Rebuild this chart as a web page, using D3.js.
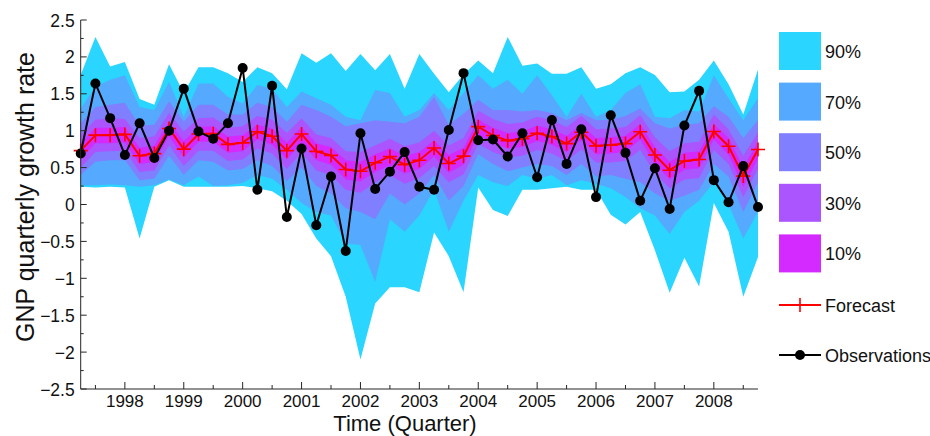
<!DOCTYPE html>
<html>
<head>
<meta charset="utf-8">
<script src="https://cdn.jsdelivr.net/npm/d3@7"></script>
<style>
  body { margin: 0; background: #fff; }
  text { font-family: "Liberation Sans", Arial, sans-serif; fill: #111; }
</style>
</head>
<body>
<svg id="chart" width="930" height="436"></svg>
<script>
// quarters 1997Q2 .. 2008Q4
const startYear = 1997.25, nQ = 47;
const quarters = d3.range(nQ).map(i => startYear + i * 0.25);

const observations = [0.69,1.64,1.17,0.67,1.10,0.63,1.00,1.57,0.99,0.89,1.10,1.85,0.20,1.61,-0.17,0.76,
  -0.28,0.38,-0.63,0.965,0.21,0.445,0.71,0.24,0.20,1.01,1.78,0.87,0.88,0.65,0.965,0.37,
  1.145,0.55,1.02,0.10,1.21,0.70,0.05,0.49,-0.06,1.07,1.54,0.33,0.03,0.52,-0.035];

const forecast = [0.73,0.94,0.94,0.95,0.66,0.69,1.03,0.75,0.955,0.96,0.815,0.835,0.985,0.925,0.73,0.955,
  0.72,0.665,0.475,0.45,0.565,0.65,0.54,0.60,0.765,0.555,0.655,1.055,0.935,0.865,0.89,0.965,
  0.92,0.825,0.98,0.795,0.805,0.825,0.985,0.67,0.465,0.59,0.61,0.99,0.79,0.385,0.745];

// band limits
const upper90 = [1.755,2.27,1.87,1.93,1.43,1.35,1.90,1.51,1.86,1.86,1.78,1.66,1.86,1.78,1.56,2.05,
  1.92,2.05,1.81,2.04,1.82,2.04,1.57,2.04,1.77,1.52,1.76,1.95,1.78,2.27,1.88,1.91,
  1.77,1.77,1.86,1.57,1.63,1.78,1.86,1.755,1.52,1.53,1.69,1.95,1.63,1.22,1.83];
const lower90 = [0.24,0.23,0.24,0.23,-0.46,0.24,0.33,0.24,0.24,0.24,0.24,0.25,0.22,0.18,0.05,-0.13,
  -0.46,-0.70,-1.25,-2.10,-1.34,-1.12,-1.12,-1.19,-0.38,-0.70,-1.19,0.23,-0.075,-0.155,0.20,0.20,
  0.22,0.24,0.20,0.20,-0.14,-0.27,-0.10,-0.62,-1.195,-0.72,-1.11,0.02,-0.37,-1.25,-0.71];
const upper70 = [1.30,1.60,1.69,1.75,1.32,1.28,1.66,1.19,1.64,1.64,1.46,1.37,1.62,1.57,1.32,1.53,
  1.44,1.35,1.19,1.14,1.55,1.51,1.19,1.28,1.51,1.28,1.51,1.75,1.57,1.69,1.50,1.75,
  1.48,1.19,1.50,1.19,1.28,1.51,1.63,1.19,1.17,1.28,1.26,1.75,1.44,1.14,1.44];
const lower70 = [0.26,0.26,0.27,0.26,0.24,0.26,0.34,0.26,0.38,0.25,0.26,0.29,0.40,0.35,0.20,0.02,
  -0.10,-0.15,-0.53,-0.55,-1.05,-0.20,-0.37,-0.15,0.20,-0.37,0.05,0.40,0.30,0.25,0.40,0.35,
  0.40,0.26,0.33,0.28,0.22,0.10,-0.05,-0.15,-0.40,-0.10,0.05,0.30,0.00,-0.46,-0.10];
const upper50 = [1.10,1.32,1.35,1.38,1.07,1.08,1.40,1.12,1.35,1.35,1.22,1.22,1.38,1.32,1.12,1.35,
  1.28,1.19,1.06,1.10,1.14,1.12,1.10,1.19,1.46,1.08,1.23,1.42,1.28,1.28,1.26,1.28,
  1.24,1.14,1.24,1.14,1.15,1.20,1.30,1.10,1.03,1.08,1.10,1.33,1.19,0.90,1.14];
const lower50 = [0.40,0.58,0.60,0.60,0.33,0.35,0.66,0.40,0.60,0.58,0.46,0.48,0.60,0.52,0.32,0.50,
  0.25,0.15,-0.05,-0.10,-0.20,0.15,0.00,0.15,0.40,0.05,0.25,0.68,0.55,0.45,0.50,0.55,
  0.52,0.40,0.55,0.38,0.40,0.35,0.30,0.15,0.05,0.12,0.20,0.55,0.38,-0.10,0.30];
const upper30 = [0.95,1.15,1.17,1.16,0.90,0.92,1.24,0.99,1.17,1.18,1.04,1.06,1.20,1.15,0.97,1.17,
  0.95,0.90,0.72,0.71,0.80,0.89,0.79,0.84,1.00,0.80,0.90,1.27,1.16,1.09,1.11,1.19,
  1.14,1.05,1.20,1.02,1.03,1.05,1.21,0.91,0.72,0.83,0.85,1.22,1.02,0.66,0.98];
const lower30 = [0.50,0.71,0.72,0.73,0.44,0.46,0.80,0.52,0.73,0.73,0.59,0.61,0.76,0.69,0.48,0.70,
  0.46,0.40,0.20,0.16,0.30,0.40,0.28,0.36,0.52,0.30,0.41,0.82,0.71,0.64,0.66,0.74,
  0.69,0.59,0.75,0.57,0.57,0.59,0.74,0.42,0.22,0.34,0.36,0.74,0.55,0.10,0.48];
const upper10 = [0.83,1.04,1.04,1.05,0.77,0.80,1.12,0.86,1.05,1.06,0.92,0.94,1.08,1.03,0.84,1.05,
  0.83,0.78,0.60,0.58,0.68,0.76,0.66,0.71,0.87,0.67,0.77,1.15,1.04,0.97,0.99,1.07,
  1.02,0.93,1.08,0.90,0.91,0.93,1.09,0.78,0.58,0.70,0.72,1.09,0.90,0.50,0.85];
const lower10 = [0.62,0.83,0.83,0.84,0.55,0.58,0.92,0.64,0.85,0.85,0.70,0.72,0.88,0.81,0.61,0.84,
  0.60,0.54,0.34,0.31,0.44,0.53,0.42,0.48,0.65,0.43,0.54,0.95,0.83,0.76,0.78,0.86,
  0.81,0.71,0.87,0.68,0.69,0.71,0.88,0.55,0.34,0.47,0.49,0.88,0.67,0.24,0.62];

const bandNames = ["90%","70%","50%","30%","10%"];
const bandColors = ["#2ad5ff","#55aaff","#7f7fff","#aa55ff","#d52aff"];
const bands = [[lower90,upper90],[lower70,upper70],[lower50,upper50],[lower30,upper30],[lower10,upper10]];

const yearTicks = d3.range(1998, 2009);
const halfTicks = d3.range(1997.5, 2009, 1);
const yTicks = d3.range(-2.5, 2.51, 0.5);
const yMinor = d3.range(-2.25, 2.5, 0.5);

const svg = d3.select("#chart");
const x = d3.scaleLinear().domain([startYear, 2008.75]).range([80.7, 758]);
const y = d3.scaleLinear().domain([-2.5, 2.5]).range([389, 20]);

// fan
bands.forEach((b, j) => {
  const area = d3.area()
    .x((d, i) => x(quarters[i]))
    .y0((d, i) => y(b[0][i]))
    .y1((d, i) => y(b[1][i]));
  svg.append("path").datum(quarters).attr("d", area).attr("fill", bandColors[j]);
});

// forecast
const line = d3.line().x((d, i) => x(quarters[i])).y(d => y(d));
svg.append("path").datum(forecast).attr("d", line)
   .attr("fill", "none").attr("stroke", "#ff0000").attr("stroke-width", 2);
svg.append("g").selectAll("path").data(forecast).enter().append("path")
   .attr("transform", (d, i) => "translate(" + x(quarters[i]) + "," + y(d) + ")")
   .attr("d", "M-7,0H7M0,-7V7")
   .attr("stroke", "#ff0000").attr("stroke-width", 1.6);

// observations
svg.append("path").datum(observations).attr("d", line)
   .attr("fill", "none").attr("stroke", "#000").attr("stroke-width", 2);
svg.append("g").selectAll("circle").data(observations).enter().append("circle")
   .attr("cx", (d, i) => x(quarters[i])).attr("cy", d => y(d)).attr("r", 5).attr("fill", "#000");

// axes
const xAxis = svg.append("g").attr("transform", "translate(0,389)");
xAxis.append("line").attr("x1", 80.7).attr("x2", 758).attr("stroke", "#262626");
xAxis.selectAll(".maj").data(yearTicks).enter().append("line")
   .attr("x1", d => x(d)).attr("x2", d => x(d)).attr("y1", 0).attr("y2", -7).attr("stroke", "#262626");
xAxis.selectAll(".min").data(halfTicks).enter().append("line")
   .attr("x1", d => x(d)).attr("x2", d => x(d)).attr("y1", 0).attr("y2", -4).attr("stroke", "#262626");
xAxis.selectAll("text").data(yearTicks).enter().append("text")
   .attr("x", d => x(d)).attr("y", 17.5).attr("text-anchor", "middle")
   .style("font-size", "17px").text(d => d);

const yAxis = svg.append("g").attr("transform", "translate(80.7,0)");
yAxis.append("line").attr("y1", 20).attr("y2", 389).attr("stroke", "#262626");
yAxis.selectAll(".maj").data(yTicks).enter().append("line")
   .attr("y1", d => y(d)).attr("y2", d => y(d)).attr("x1", 0).attr("x2", 6).attr("stroke", "#262626");
yAxis.selectAll(".min").data(yMinor).enter().append("line")
   .attr("y1", d => y(d)).attr("y2", d => y(d)).attr("x1", 0).attr("x2", 3).attr("stroke", "#262626");
yAxis.selectAll("text").data(yTicks).enter().append("text")
   .attr("x", -6).attr("y", d => y(d) + 6.5).attr("text-anchor", "end")
   .style("font-size", "17.5px").text(d => d3.format("")(Math.round(d * 10) / 10).replace("-", "\u2212"));

svg.append("text").attr("x", 405).attr("y", 431).attr("text-anchor", "middle")
   .style("font-size", "22px").text("Time (Quarter)");
svg.append("text").attr("transform", "translate(34,197) rotate(-90)").attr("text-anchor", "middle")
   .style("font-size", "25px").text("GNP quarterly growth rate");

// legend
const legend = svg.append("g").attr("transform", "translate(779,32)");
legend.selectAll("rect").data(bandNames).enter().append("rect")
   .attr("x", 0).attr("y", (d, i) => 50.6 * i).attr("width", 42).attr("height", 38)
   .attr("fill", (d, i) => bandColors[i]);
legend.selectAll(".bl").data(bandNames).enter().append("text")
   .attr("x", 46).attr("y", (d, i) => 50.6 * i + 26).style("font-size", "18px").text(d => d);

const lf = legend.append("g").attr("transform", "translate(0,273)");
lf.append("line").attr("x1", 0).attr("x2", 42).attr("stroke", "#ff0000").attr("stroke-width", 2);
lf.append("path").attr("d", "M14,0H28M21,-7V7").attr("stroke", "#ff0000").attr("stroke-width", 1.6);
lf.append("text").attr("x", 46).attr("y", 6.5).style("font-size", "18px").text("Forecast");

const lo = legend.append("g").attr("transform", "translate(0,323)");
lo.append("line").attr("x1", 0).attr("x2", 42).attr("stroke", "#000").attr("stroke-width", 2);
lo.append("circle").attr("cx", 21).attr("r", 5).attr("fill", "#000");
lo.append("text").attr("x", 46).attr("y", 6.5).style("font-size", "18px").text("Observations");
</script>
</body>
</html>
